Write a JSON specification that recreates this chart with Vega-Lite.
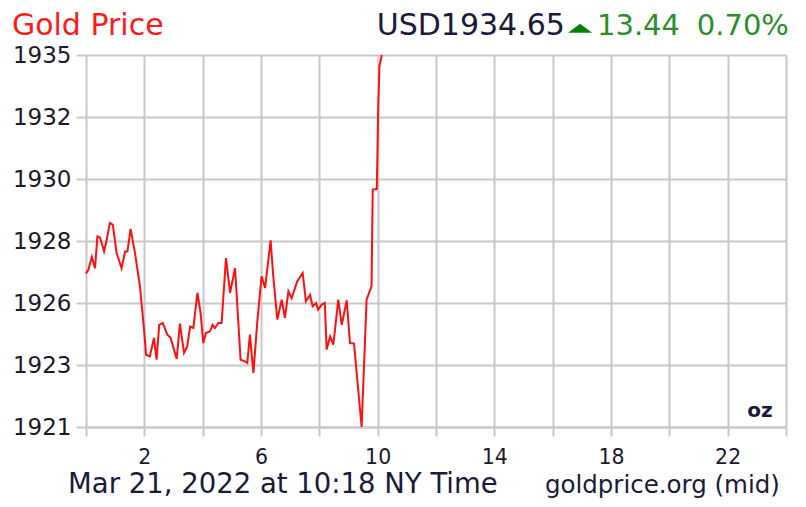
{
  "$schema": "https://vega.github.io/schema/vega-lite/v6.json",
  "width": 700,
  "height": 372,
  "autosize": {"type": "none"},
  "padding": {"left": 86, "top": 55, "right": 20, "bottom": 80},
  "background": "white",
  "config": {"view": {"stroke": null}, "font": "DejaVu Sans"},
  "layer": [
    {
      "data": {"values": [
        {"h": 0.0, "p": 1926.63}, {"h": 0.08, "p": 1926.77}, {"h": 0.2, "p": 1927.24}, {"h": 0.31, "p": 1926.83},
        {"h": 0.39, "p": 1927.99}, {"h": 0.48, "p": 1927.95}, {"h": 0.62, "p": 1927.44}, {"h": 0.71, "p": 1927.87},
        {"h": 0.82, "p": 1928.49}, {"h": 0.92, "p": 1928.42}, {"h": 1.05, "p": 1927.38}, {"h": 1.22, "p": 1926.83},
        {"h": 1.34, "p": 1927.44}, {"h": 1.42, "p": 1927.44}, {"h": 1.53, "p": 1928.27}, {"h": 1.68, "p": 1927.38},
        {"h": 1.85, "p": 1926.16}, {"h": 1.99, "p": 1924.57}, {"h": 2.06, "p": 1923.65}, {"h": 2.19, "p": 1923.59},
        {"h": 2.33, "p": 1924.27}, {"h": 2.42, "p": 1923.47}, {"h": 2.51, "p": 1924.75}, {"h": 2.63, "p": 1924.82},
        {"h": 2.79, "p": 1924.39}, {"h": 2.9, "p": 1924.27}, {"h": 3.11, "p": 1923.5}, {"h": 3.22, "p": 1924.79},
        {"h": 3.36, "p": 1923.72}, {"h": 3.47, "p": 1923.96}, {"h": 3.57, "p": 1924.69}, {"h": 3.68, "p": 1924.63},
        {"h": 3.82, "p": 1925.92}, {"h": 3.93, "p": 1925.18}, {"h": 4.02, "p": 1924.08}, {"h": 4.11, "p": 1924.45},
        {"h": 4.25, "p": 1924.51}, {"h": 4.34, "p": 1924.75}, {"h": 4.42, "p": 1924.63}, {"h": 4.54, "p": 1924.82},
        {"h": 4.65, "p": 1924.82}, {"h": 4.8, "p": 1927.2}, {"h": 4.94, "p": 1925.92}, {"h": 5.11, "p": 1926.83},
        {"h": 5.3, "p": 1923.47}, {"h": 5.45, "p": 1923.41}, {"h": 5.53, "p": 1923.35}, {"h": 5.62, "p": 1924.39},
        {"h": 5.74, "p": 1922.98}, {"h": 5.87, "p": 1924.82}, {"h": 6.02, "p": 1926.53}, {"h": 6.14, "p": 1926.1},
        {"h": 6.33, "p": 1927.85}, {"h": 6.42, "p": 1926.53}, {"h": 6.56, "p": 1924.94}, {"h": 6.71, "p": 1925.67},
        {"h": 6.82, "p": 1925.0}, {"h": 6.94, "p": 1925.98}, {"h": 7.05, "p": 1925.73}, {"h": 7.13, "p": 1925.98},
        {"h": 7.24, "p": 1926.34}, {"h": 7.43, "p": 1926.65}, {"h": 7.54, "p": 1925.61}, {"h": 7.68, "p": 1925.85},
        {"h": 7.77, "p": 1925.43}, {"h": 7.89, "p": 1925.55}, {"h": 7.96, "p": 1925.3}, {"h": 8.08, "p": 1925.49},
        {"h": 8.19, "p": 1925.55}, {"h": 8.25, "p": 1923.84}, {"h": 8.37, "p": 1924.32}, {"h": 8.48, "p": 1924.02},
        {"h": 8.65, "p": 1925.67}, {"h": 8.77, "p": 1924.75}, {"h": 8.94, "p": 1925.65}, {"h": 9.05, "p": 1924.08},
        {"h": 9.19, "p": 1924.06}, {"h": 9.45, "p": 1921.0}, {"h": 9.62, "p": 1925.67}, {"h": 9.79, "p": 1926.16},
        {"h": 9.83, "p": 1929.71}, {"h": 9.97, "p": 1929.73}, {"h": 10.02, "p": 1932.76}, {"h": 10.06, "p": 1934.23},
        {"h": 10.14, "p": 1934.65}
      ]},
      "mark": {"type": "line", "color": "#ff1010", "strokeWidth": 2},
      "encoding": {
        "x": {
          "field": "h", "type": "quantitative",
          "scale": {"domain": [0, 24], "nice": false, "zero": false},
          "axis": {
            "title": null,
            "values": [0, 2, 4, 6, 8, 10, 12, 14, 16, 18, 20, 22, 24],
            "labelExpr": "datum.value % 4 == 2 ? datum.label : ''",
            "grid": true, "gridColor": "#c8c8c8", "gridWidth": 2,
            "tickColor": "#c8c8c8", "tickWidth": 2, "tickSize": 9,
            "domainColor": "#c8c8c8", "domainWidth": 2,
            "labelFont": "DejaVu Sans", "labelFontSize": 20.5, "labelColor": "#1a1a2a",
            "labelPadding": 11, "labelFlush": false, "labelOverlap": false
          }
        },
        "y": {
          "field": "p", "type": "quantitative",
          "scale": {"domain": [1921, 1934.65], "nice": false, "zero": false},
          "axis": {
            "title": null,
            "values": [1921, 1923.275, 1925.55, 1927.825, 1930.1, 1932.375, 1934.65],
            "format": ".0f",
            "grid": true, "gridColor": "#c8c8c8", "gridWidth": 2,
            "tickColor": "#c8c8c8", "tickWidth": 2, "tickSize": 10,
            "domain": false,
            "labelFont": "DejaVu Sans", "labelFontSize": 23, "labelColor": "#1a1a2a",
            "labelPadding": 5, "labelFlush": false, "labelOverlap": false
          }
        }
      }
    },
    {
      "data": {"values": [{"label": "Gold Price"}]},
      "mark": {"type": "text", "align": "left", "baseline": "alphabetic", "font": "DejaVu Sans", "fontSize": 30, "color": "#ff1a1a"},
      "encoding": {"x": {"datum": -2.54}, "y": {"datum": 1935.38}, "text": {"field": "label"}}
    },
    {
      "data": {"values": [{"label": "USD1934.65"}]},
      "mark": {"type": "text", "align": "right", "baseline": "alphabetic", "font": "DejaVu Sans", "fontSize": 30, "color": "#1a1a3a"},
      "encoding": {"x": {"datum": 16.42}, "y": {"datum": 1935.4}, "text": {"field": "label"}}
    },
    {
      "data": {"values": [{"label": "13.44"}]},
      "mark": {"type": "text", "align": "left", "baseline": "alphabetic", "font": "DejaVu Sans", "fontSize": 29, "color": "#2a8f2a"},
      "encoding": {"x": {"datum": 17.52}, "y": {"datum": 1935.4}, "text": {"field": "label"}}
    },
    {
      "data": {"values": [{"label": "0.70%"}]},
      "mark": {"type": "text", "align": "right", "baseline": "alphabetic", "font": "DejaVu Sans", "fontSize": 29, "color": "#2a8f2a"},
      "encoding": {"x": {"datum": 24.1}, "y": {"datum": 1935.4}, "text": {"field": "label"}}
    },
    {
      "data": {"values": [{"dir": "up"}]},
      "mark": {"type": "point", "shape": "M-1,0.38L1,0.38L0,-0.38Z", "size": 576, "filled": true, "color": "#008000", "opacity": 1},
      "encoding": {"x": {"datum": 16.94}, "y": {"datum": 1935.63}}
    },
    {
      "data": {"values": [{"label": "Mar 21, 2022 at 10:18 NY Time"}]},
      "mark": {"type": "text", "align": "center", "baseline": "alphabetic", "font": "DejaVu Sans", "fontSize": 27.5, "color": "#1a1a3a"},
      "encoding": {"x": {"datum": 6.75}, "y": {"datum": 1918.58}, "text": {"field": "label"}}
    },
    {
      "data": {"values": [{"label": "goldprice.org (mid)"}]},
      "mark": {"type": "text", "align": "right", "baseline": "alphabetic", "font": "DejaVu Sans", "fontSize": 24.5, "color": "#1a1a3a"},
      "encoding": {"x": {"datum": 23.79}, "y": {"datum": 1918.58}, "text": {"field": "label"}}
    },
    {
      "data": {"values": [{"label": "oz"}]},
      "mark": {"type": "text", "align": "right", "baseline": "alphabetic", "font": "DejaVu Sans", "fontSize": 20, "fontWeight": "bold", "color": "#1a1a3a"},
      "encoding": {"x": {"datum": 23.54}, "y": {"datum": 1921.37}, "text": {"field": "label"}}
    }
  ]
}
